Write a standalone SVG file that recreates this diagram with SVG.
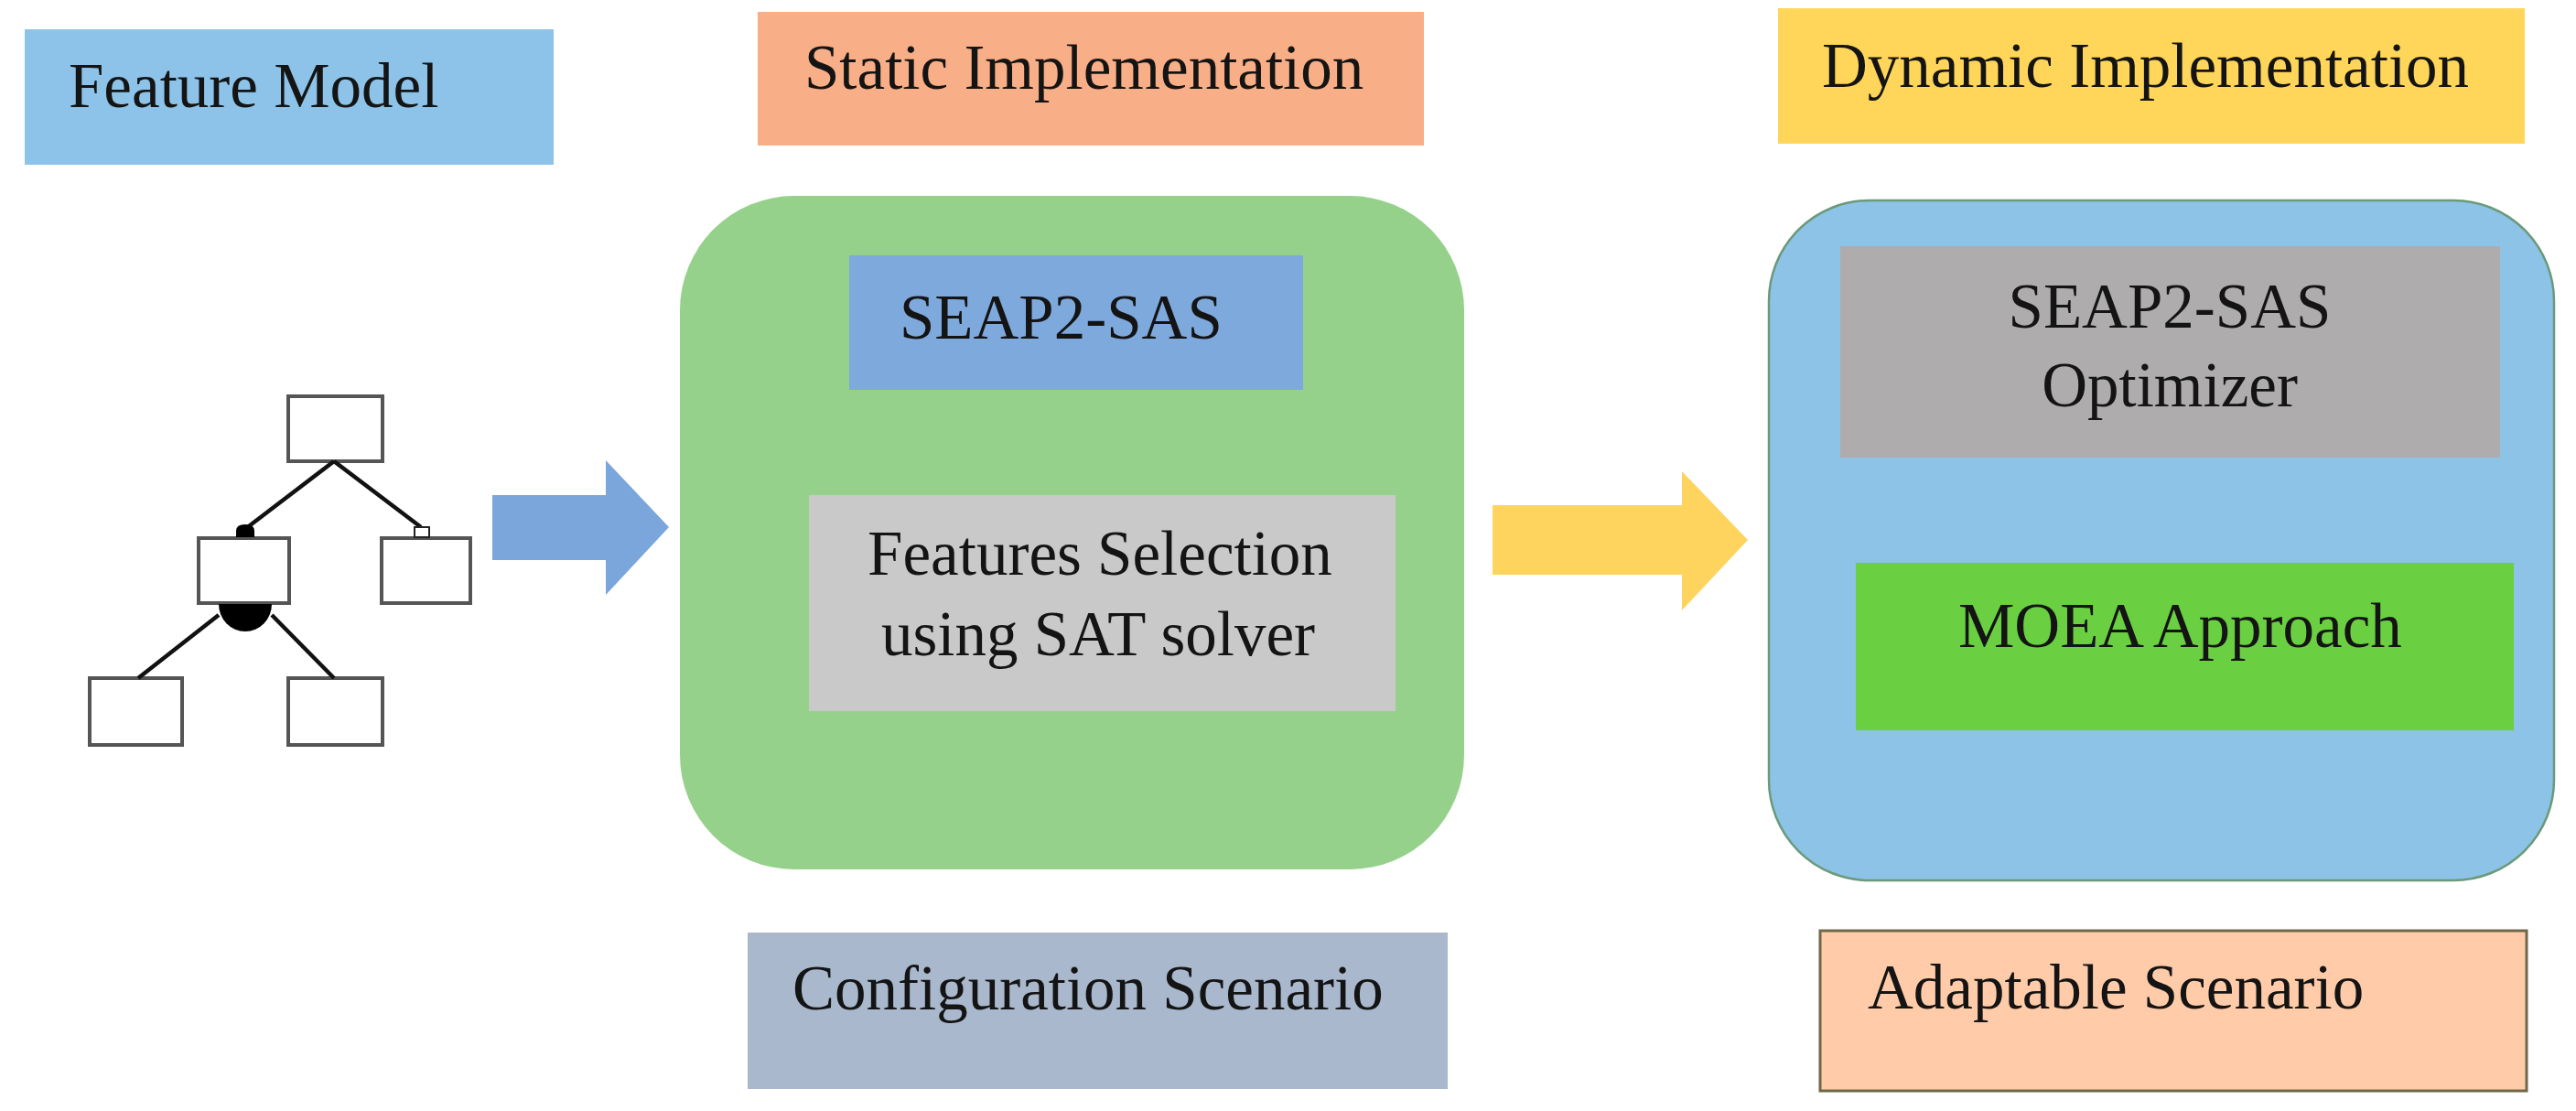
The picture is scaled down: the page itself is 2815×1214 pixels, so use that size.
<svg xmlns="http://www.w3.org/2000/svg" width="2815" height="1214" viewBox="0 0 2815 1214">
<style>
  .t { font-family: "Liberation Serif", "Times New Roman", serif; font-size: 69px; fill: #141414; }
  .mid { text-anchor: middle; }
  .fbox { fill: #ffffff; stroke: #555555; stroke-width: 4; }
  .tl { stroke: #111111; stroke-width: 4.5; fill: none; }
</style>
<rect width="2815" height="1214" fill="#ffffff"/>

<g id="feature-model-label">
  <rect x="27" y="32" width="578" height="148" fill="#8DC3E8"/>
  <text class="t" x="75" y="117">Feature Model</text>
</g>

<g id="static-implementation-label">
  <rect x="828" y="13" width="728" height="146" fill="#F8AE86"/>
  <text class="t" x="879" y="97">Static Implementation</text>
</g>

<g id="dynamic-implementation-label">
  <rect x="1943" y="9" width="816" height="148" fill="#FFD659"/>
  <text class="t" x="1991" y="95">Dynamic Implementation</text>
</g>

<g id="feature-tree">
  <rect class="fbox" x="315" y="433" width="103" height="71"/>
  <rect class="fbox" x="217" y="588" width="99" height="71"/>
  <rect class="fbox" x="417" y="588" width="97" height="71"/>
  <rect class="fbox" x="98" y="741" width="101" height="73"/>
  <rect class="fbox" x="315" y="741" width="103" height="73"/>
  <line class="tl" x1="365" y1="504" x2="268" y2="578"/>
  <line class="tl" x1="365" y1="504" x2="460" y2="576"/>
  <line class="tl" x1="239" y1="672" x2="151" y2="741"/>
  <line class="tl" x1="297" y1="672" x2="365" y2="741"/>
  <path d="M258 587 L258 580 Q258 573 268 573 Q278 573 278 580 L278 587 Z" fill="#000000"/>
  <rect x="453" y="576" width="16" height="11" fill="#ffffff" stroke="#222222" stroke-width="2"/>
  <path d="M239 660 A29 30 0 0 0 297 660 Z" fill="#000000"/>
</g>

<g id="connectors">
  <path id="arrow-blue" d="M538 541 L662 541 L662 503 L731 576 L662 650 L662 612 L538 612 Z" fill="#7BA6DB"/>
  <path id="arrow-yellow" d="M1631 552 L1838 552 L1838 515 L1910 590 L1838 667 L1838 628 L1631 628 Z" fill="#FFD45E"/>
</g>

<g id="static-container">
  <rect x="743" y="214" width="857" height="736" rx="125" ry="125" fill="#96D18B"/>
</g>

<g id="seap2-sas">
  <rect x="928" y="279" width="496" height="147" fill="#7EA9DD"/>
  <text class="t" x="983" y="370">SEAP2-SAS</text>
</g>

<g id="features-selection">
  <rect x="884" y="541" width="641" height="236" fill="#C9C9C9"/>
  <text class="t mid" x="1202" y="628">Features Selection</text>
  <text class="t mid" x="1200" y="716">using SAT solver</text>
</g>

<g id="dynamic-container">
  <rect x="1933" y="219" width="858" height="743" rx="110" ry="110" fill="#8CC3E7" stroke="#6A9A7A" stroke-width="2.5"/>
</g>

<g id="seap2-sas-optimizer">
  <rect x="2011" y="269" width="721" height="231" fill="#AEACAC"/>
  <text class="t mid" x="2371" y="358">SEAP2-SAS</text>
  <text class="t mid" x="2371" y="444">Optimizer</text>
</g>

<g id="moea-approach">
  <rect x="2028" y="615" width="719" height="183" fill="#6AD042"/>
  <text class="t" x="2140" y="707">MOEA Approach</text>
</g>

<g id="configuration-scenario">
  <rect x="817" y="1019" width="765" height="171" fill="#A9B8CD"/>
  <text class="t" x="866" y="1103">Configuration Scenario</text>
</g>

<g id="adaptable-scenario">
  <rect x="1989" y="1017" width="772" height="175" fill="#FFCBA9" stroke="#6E6A48" stroke-width="3"/>
  <text class="t" x="2041" y="1102">Adaptable Scenario</text>
</g>
</svg>
